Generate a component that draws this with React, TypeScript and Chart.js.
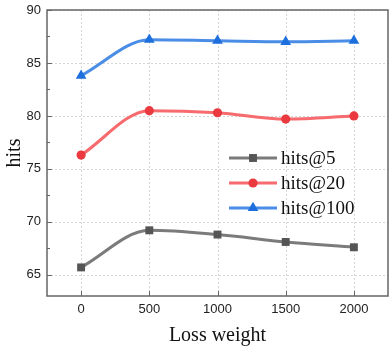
import React, { useEffect, useRef } from "react";
import { Chart, registerables } from "chart.js";

Chart.register(...registerables);

const lossWeights = [0, 500, 1000, 1500, 2000];
const hits5 = [65.7, 69.2, 68.8, 68.1, 67.6];
const hits20 = [76.3, 80.5, 80.3, 79.7, 80.0];
const hits100 = [83.8, 87.2, 87.1, 87.0, 87.1];
const seriesLabels = ["hits@5", "hits@20", "hits@100"];
const xTicks = [0, 500, 1000, 1500, 2000];
const yTicks = [65, 70, 75, 80, 85, 90];
const yMinorTicks = [67.5, 72.5, 77.5, 82.5, 87.5];

const lineColors = ["#7b7b7b", "#f76b6e", "#4a8de6"];
const markerColors = ["#555555", "#ea3a3f", "#1c6fdc"];
const markerStyles = ["rect", "circle", "triangle"];
const markerRadii = [5.6, 4.6, 6.2];

function drawMarker(ctx: CanvasRenderingContext2D, style: string, x: number, y: number, r: number, color: string) {
  ctx.save();
  ctx.fillStyle = color;
  ctx.beginPath();
  if (style === "rect") {
    const s = Math.SQRT1_2 * r;
    ctx.rect(x - s, y - s, 2 * s, 2 * s);
  } else if (style === "circle") {
    ctx.arc(x, y, r, 0, Math.PI * 2);
  } else {
    const w = (r * Math.sqrt(3)) / 2;
    ctx.moveTo(x, y - r);
    ctx.lineTo(x + w, y + r / 2);
    ctx.lineTo(x - w, y + r / 2);
    ctx.closePath();
  }
  ctx.fill();
  ctx.restore();
}

const framePlugin = {
  id: "frame",
  beforeDatasetsDraw(chart: any) {
    const { ctx, chartArea } = chart;
    const xs = chart.scales.x;
    const ys = chart.scales.y;
    ctx.save();
    ctx.strokeStyle = "#d6d6d6";
    ctx.lineWidth = 1;
    ctx.setLineDash([2, 2]);
    xTicks.forEach((v) => {
      const px = Math.round(xs.getPixelForValue(v)) + 0.5;
      ctx.beginPath();
      ctx.moveTo(px, chartArea.top);
      ctx.lineTo(px, chartArea.bottom);
      ctx.stroke();
    });
    yTicks.forEach((v) => {
      const py = Math.round(ys.getPixelForValue(v)) + 0.5;
      ctx.beginPath();
      ctx.moveTo(chartArea.left, py);
      ctx.lineTo(chartArea.right, py);
      ctx.stroke();
    });
    ctx.restore();
  },
  afterDatasetsDraw(chart: any) {
    const { ctx, chartArea } = chart;
    const xs = chart.scales.x;
    const ys = chart.scales.y;
    ctx.save();
    ctx.strokeStyle = "#666666";
    ctx.lineWidth = 1.5;
    ctx.setLineDash([]);
    ctx.strokeRect(chartArea.left, chartArea.top, chartArea.right - chartArea.left, chartArea.bottom - chartArea.top);
    ctx.lineWidth = 1;
    xTicks.forEach((v) => {
      const px = Math.round(xs.getPixelForValue(v)) + 0.5;
      ctx.beginPath();
      ctx.moveTo(px, chartArea.bottom);
      ctx.lineTo(px, chartArea.bottom - 5);
      ctx.stroke();
    });
    yTicks.forEach((v) => {
      const py = Math.round(ys.getPixelForValue(v)) + 0.5;
      ctx.beginPath();
      ctx.moveTo(chartArea.left, py);
      ctx.lineTo(chartArea.left + 5, py);
      ctx.stroke();
    });
    yMinorTicks.forEach((v) => {
      const py = Math.round(ys.getPixelForValue(v)) + 0.5;
      ctx.beginPath();
      ctx.moveTo(chartArea.left, py);
      ctx.lineTo(chartArea.left + 3, py);
      ctx.stroke();
    });

    // legend
    const lx0 = 229;
    const lx1 = 277;
    const ly0 = 158;
    const step = 25;
    ctx.font = "19px 'Liberation Serif', 'Times New Roman', serif";
    ctx.textBaseline = "middle";
    ctx.textAlign = "left";
    seriesLabels.forEach((lab, i) => {
      const y = ly0 + i * step;
      ctx.strokeStyle = lineColors[i];
      ctx.lineWidth = 3;
      ctx.beginPath();
      ctx.moveTo(lx0, y);
      ctx.lineTo(lx1, y);
      ctx.stroke();
      drawMarker(ctx, markerStyles[i], (lx0 + lx1) / 2, y, markerRadii[i], markerColors[i]);
      ctx.fillStyle = "#111111";
      ctx.fillText(lab, lx1 + 4, y + 1);
    });
    ctx.restore();
  },
};

export default function App() {
  const ref = useRef<HTMLCanvasElement | null>(null);
  useEffect(() => {
    if (!ref.current) return;
    const series = [hits5, hits20, hits100];
    const chart = new Chart(ref.current, {
      type: "line",
      data: {
        datasets: series.map((vals, i) => ({
          label: seriesLabels[i],
          data: vals.map((v, j) => ({ x: lossWeights[j], y: v })),
          borderColor: lineColors[i],
          borderWidth: 3,
          backgroundColor: markerColors[i],
          pointBackgroundColor: markerColors[i],
          pointBorderColor: markerColors[i],
          pointBorderWidth: 0,
          pointStyle: markerStyles[i] as any,
          pointRadius: markerRadii[i],
          cubicInterpolationMode: "monotone" as const,
          fill: false,
        })),
      },
      options: {
        animation: false,
        responsive: false,
        devicePixelRatio: 1,
        layout: { autoPadding: false, padding: { top: 10, right: 2, left: 0, bottom: 0 } },
        plugins: { legend: { display: false }, tooltip: { enabled: false } },
        scales: {
          x: {
            type: "linear",
            min: -250,
            max: 2250,
            grid: { display: false, drawTicks: false },
            border: { display: false },
            afterBuildTicks: (s: any) => {
              s.ticks = xTicks.map((v) => ({ value: v }));
            },
            ticks: {
              padding: 6,
              maxRotation: 0,
              autoSkip: false,
              color: "#222222",
              font: { family: "'Liberation Sans', Arial, sans-serif", size: 13 },
              callback: (v: any) => String(v),
            },
            title: {
              display: true,
              text: "Loss weight",
              color: "#111111",
              font: { family: "'Liberation Serif', 'Times New Roman', serif", size: 20, lineHeight: 1.2 },
              padding: { top: 0, bottom: 0 },
            },
            afterFit: (s: any) => {
              s.height = 52;
              s.paddingLeft = 0;
              s.paddingRight = 0;
            },
          },
          y: {
            type: "linear",
            min: 63,
            max: 90,
            grid: { display: false, drawTicks: false },
            border: { display: false },
            afterBuildTicks: (s: any) => {
              s.ticks = yTicks.map((v) => ({ value: v }));
            },
            ticks: {
              padding: 6,
              autoSkip: false,
              color: "#222222",
              font: { family: "'Liberation Sans', Arial, sans-serif", size: 13 },
            },
            title: {
              display: true,
              text: "hits",
              color: "#111111",
              font: { family: "'Liberation Serif', 'Times New Roman', serif", size: 20, lineHeight: 1.2 },
              padding: { top: 3, bottom: 0 },
            },
            afterFit: (s: any) => {
              s.width = 47;
              s.paddingTop = 0;
              s.paddingBottom = 0;
            },
          },
        },
      },
      plugins: [framePlugin],
    });
    return () => chart.destroy();
  }, []);
  return (
    <div style={{ position: "fixed", left: 0, top: 0, width: 390, height: 348, background: "#fff" }}>
      <canvas ref={ref} width={390} height={348} style={{ width: 390, height: 348 }} />
    </div>
  );
}
